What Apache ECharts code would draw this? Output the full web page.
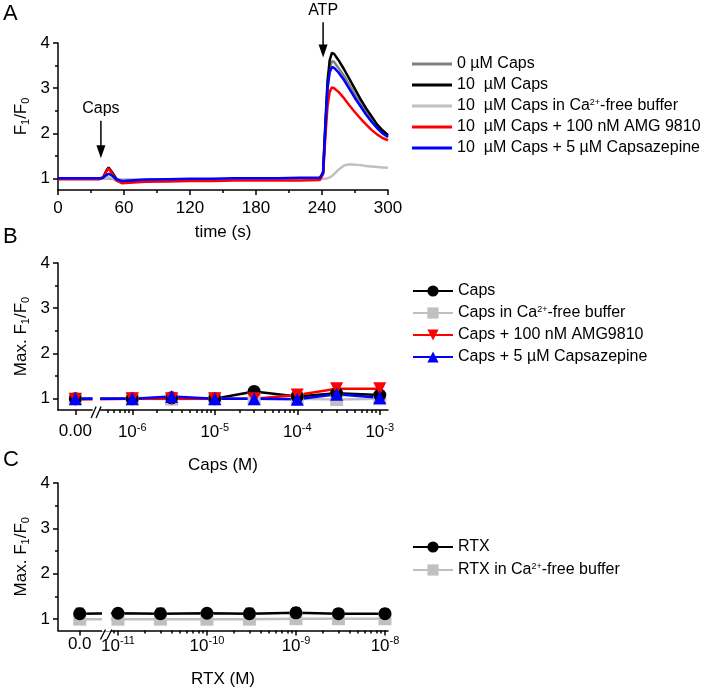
<!DOCTYPE html>
<html>
<head>
<meta charset="utf-8">
<script src="https://cdn.jsdelivr.net/npm/echarts@6/dist/echarts.min.js"></script>
<style>
html, body { margin: 0; padding: 0; background: #fff; }
#chart { width: 709px; height: 688px; }
</style>
</head>
<body>
<div id="chart"></div>
<script>
// ---- Panel A: F1/F0 time course ----
var time = [0, 10, 20, 30, 38, 41, 44, 46, 49, 53, 58, 65, 80, 100, 120, 140, 160, 180, 200, 220, 238, 241, 243, 245, 247, 249, 251, 255, 260, 265, 270, 275, 280, 285, 290, 295, 300];
var caps0 = [1.0, 1.0, 1.0, 1.0, 1.0, 1.0, 1.01, 1.01, 1.0, 0.98, 0.97, 0.97, 0.97, 0.98, 0.98, 0.98, 0.99, 0.99, 0.99, 0.99, 0.99, 1.12, 2.1, 3.0, 3.45, 3.6, 3.58, 3.45, 3.27, 3.07, 2.86, 2.66, 2.48, 2.3, 2.14, 2.02, 1.93];
var caps10 = [1.0, 1.0, 1.0, 1.0, 1.0, 1.03, 1.18, 1.25, 1.15, 1.0, 0.93, 0.93, 0.95, 0.96, 0.97, 0.97, 0.98, 0.98, 0.98, 0.99, 0.99, 1.15, 2.2, 3.15, 3.62, 3.78, 3.76, 3.62, 3.42, 3.2, 2.98, 2.76, 2.56, 2.38, 2.2, 2.07, 1.96];
var caps10CaFree = [1.0, 1.0, 1.0, 1.0, 1.0, 1.0, 1.02, 1.03, 1.01, 0.99, 0.98, 0.98, 0.98, 0.98, 0.98, 0.98, 0.99, 0.99, 0.99, 0.99, 0.99, 1.0, 1.0, 1.01, 1.03, 1.06, 1.1, 1.2, 1.29, 1.32, 1.31, 1.3, 1.28, 1.27, 1.26, 1.25, 1.24];
var caps10Amg = [0.99, 0.99, 0.99, 0.99, 0.99, 1.02, 1.16, 1.23, 1.12, 0.96, 0.9, 0.91, 0.93, 0.94, 0.95, 0.95, 0.96, 0.96, 0.96, 0.96, 0.97, 1.1, 1.9, 2.6, 2.92, 3.02, 3.0, 2.92, 2.78, 2.62, 2.47, 2.33, 2.2, 2.08, 1.98, 1.9, 1.85];
var caps10Cpz = [1.01, 1.01, 1.01, 1.01, 1.01, 1.02, 1.08, 1.11, 1.07, 0.99, 0.95, 0.96, 0.98, 0.99, 1.0, 1.0, 1.01, 1.01, 1.01, 1.02, 1.02, 1.13, 2.1, 3.0, 3.35, 3.47, 3.45, 3.35, 3.18, 2.98, 2.78, 2.6, 2.42, 2.26, 2.12, 2.0, 1.92];
var timeTicks = [0, 60, 120, 180, 240, 300];

// ---- Panel B: max F1/F0 vs capsaicin ----
var capsConc = [0, 1e-6, 3e-6, 1e-5, 3e-5, 1e-4, 3e-4, 1e-3];
var capsMax = [1.0, 1.0, 1.02, 1.0, 1.16, 1.05, 1.12, 1.08];
var capsMaxErr = [0.03, 0.03, 0.04, 0.03, 0.05, 0.04, 0.06, 0.05];
var capsCaFree = [1.0, 1.0, 0.99, 1.0, 1.0, 1.0, 0.98, 1.0];
var capsCaFreeErr = [0.06, 0.03, 0.06, 0.03, 0.03, 0.03, 0.04, 0.03];
var capsAmg = [0.98, 1.0, 1.0, 1.0, 1.0, 1.08, 1.22, 1.22];
var capsAmgErr = [0.08, 0.06, 0.08, 0.07, 0.07, 0.08, 0.1, 0.09];
var capsCpz = [1.0, 1.0, 1.05, 1.0, 1.0, 0.99, 1.1, 1.02];
var capsCpzErr = [0.05, 0.04, 0.05, 0.04, 0.04, 0.05, 0.06, 0.05];

// ---- Panel C: max F1/F0 vs RTX ----
var rtxConc = [0, 1e-11, 3e-11, 1e-10, 3e-10, 1e-9, 3e-9, 1e-8];
var rtxMax = [1.12, 1.13, 1.12, 1.13, 1.12, 1.14, 1.12, 1.12];
var rtxMaxErr = [0.12, 0.1, 0.12, 0.1, 0.12, 0.11, 0.1, 0.1];
var rtxCaFree = [1.0, 1.0, 1.0, 1.0, 1.0, 1.01, 1.01, 1.01];
var rtxCaFreeErr = [0.04, 0.04, 0.04, 0.04, 0.04, 0.04, 0.04, 0.04];

var maxTicks = [1, 2, 3, 4];
var maxMinorTicks = [1.5, 2.5, 3.5];

// broken log axes: the zero dose sits left of the break
var axB = { min: -6.9, max: -2.9, zero: -6.69, brk: [-6.48, -6.39], zeroLabel: '0.00', decades: [-6, -5, -4, -3], margin: 12, supPad: 2 };
var axC = { min: -11.674, max: -7.966, zero: -11.43, brk: [-11.18, -11.08], zeroLabel: '0.0', decades: [-11, -10, -9, -8], margin: 5, supPad: 4 };

var FONT = '"Liberation Sans", Arial, Helvetica, sans-serif';
var GRAY = '#808080', LIGHT = '#c0c0c0', RED = '#ff0000', BLUE = '#0000ff';

function pos(ax, c) { return c === 0 ? ax.zero : Math.log10(c); }
function minorTicks(ax) {
    var out = [];
    for (var d = Math.floor(ax.min) - 1; d < ax.max; d++) {
        for (var k = 2; k <= 9; k++) {
            var v = d + Math.log10(k);
            if (v > ax.brk[1] && v < ax.max) out.push(v);
        }
    }
    return out;
}

var tickStyle = { color: '#000', width: 1.5 };
var lineAxis = { show: true, onZero: false, lineStyle: { color: '#000', width: 1.5 } };
var label17 = { fontSize: 17, fontFamily: FONT, color: '#000' };
var nameRich = {
    b: { fontSize: 17, lineHeight: 20, fontFamily: FONT, color: '#000' },
    s: { fontSize: 11, lineHeight: 10, verticalAlign: 'bottom', fontFamily: FONT, color: '#000' }
};

function yAxes(grid) {
    return [{
        gridIndex: grid, type: 'value', min: 0.75, max: 4, position: 'left',
        axisLine: lineAxis,
        axisTick: { show: true, length: 5, customValues: maxTicks, lineStyle: tickStyle },
        axisLabel: Object.assign({ margin: 8, customValues: maxTicks }, label17),
        splitLine: { show: false },
        name: grid === 0 ? '{b|F}{s|1}{b|/F}{s|0}' : '{b|Max. F}{s|1}{b|/F}{s|0}',
        nameLocation: 'middle', nameGap: 27,
        nameTextStyle: { rich: nameRich }
    }, {
        gridIndex: grid, type: 'value', min: 0.75, max: 4, position: 'left',
        axisLine: { show: false },
        axisTick: { show: true, length: 3, customValues: maxMinorTicks, lineStyle: tickStyle },
        axisLabel: { show: false },
        splitLine: { show: false }
    }];
}

function logAxes(grid, ax, name, gap) {
    var major = [ax.zero].concat(ax.decades);
    return [{
        gridIndex: grid, type: 'value', min: ax.min, max: ax.max, position: 'bottom',
        axisLine: lineAxis,
        axisTick: { show: true, length: 5, customValues: major, lineStyle: tickStyle },
        axisLabel: {
            margin: ax.margin, customValues: major,
            formatter: function (v) {
                return Math.abs(v - ax.zero) < 1e-6 ? '{z|' + ax.zeroLabel + '}' : '{b|10}{p|' + Math.round(v) + '}';
            },
            rich: {
                z: { fontSize: 17, lineHeight: 18, fontFamily: FONT, color: '#000' },
                b: { fontSize: 17, lineHeight: 18, padding: [ax.supPad, 0, 0, 0], fontFamily: FONT, color: '#000' },
                p: { fontSize: 11, lineHeight: 12, verticalAlign: 'top', fontFamily: FONT, color: '#000' }
            }
        },
        splitLine: { show: false },
        name: name, nameLocation: 'middle', nameGap: gap,
        nameTextStyle: label17
    }, {
        gridIndex: grid, type: 'value', min: ax.min, max: ax.max, position: 'bottom',
        axisLine: { show: false },
        axisTick: { show: true, length: 3, customValues: minorTicks(ax), lineStyle: tickStyle },
        axisLabel: { show: false },
        splitLine: { show: false }
    }];
}

function trace(name, vals, color) {
    return {
        name: name, type: 'line', xAxisIndex: 0, yAxisIndex: 0,
        symbol: 'none', showSymbol: false, z: 3,
        lineStyle: { color: color, width: 2.5 }, itemStyle: { color: color },
        data: time.map(function (t, i) { return [t, vals[i]]; })
    };
}

function doseLine(name, ax, xi, yi, conc, vals, color, symbol) {
    return {
        name: name, type: 'line', xAxisIndex: xi, yAxisIndex: yi,
        symbol: symbol, symbolSize: 13, z: 3,
        lineStyle: { color: color, width: 2.5 }, itemStyle: { color: color },
        data: conc.map(function (c, i) { return [pos(ax, c), vals[i]]; })
    };
}

function errBars(ax, xi, yi, conc, vals, errs, color) {
    return {
        type: 'custom', xAxisIndex: xi, yAxisIndex: yi, z: 2, silent: true,
        encode: { x: 0, y: [1, 2] },
        data: conc.map(function (c, i) { return [pos(ax, c), vals[i] - errs[i], vals[i] + errs[i]]; }),
        renderItem: function (params, api) {
            var lo = api.coord([api.value(0), api.value(1)]);
            var hi = api.coord([api.value(0), api.value(2)]);
            var st = { stroke: color, lineWidth: 1.2 };
            return {
                type: 'group', children: [
                    { type: 'line', shape: { x1: lo[0], y1: lo[1], x2: hi[0], y2: hi[1] }, style: st },
                    { type: 'line', shape: { x1: lo[0] - 4, y1: lo[1], x2: lo[0] + 4, y2: lo[1] }, style: st },
                    { type: 'line', shape: { x1: hi[0] - 4, y1: hi[1], x2: hi[0] + 4, y2: hi[1] }, style: st }
                ]
            };
        }
    };
}

var DOWN = 'path://M0,0L10,0L5,9Z';
var namesA = ['0 µM Caps', '10  µM Caps', '10  µM Caps in Ca2+-free buffer', '10  µM Caps + 100 nM AMG 9810', '10  µM Caps + 5 µM Capsazepine'];
var namesB = ['Caps', 'Caps in Ca2+-free buffer', 'Caps + 100 nM AMG9810', 'Caps + 5 µM Capsazepine'];
var namesC = ['RTX', 'RTX in Ca2+-free buffer'];

function legend(top, gap, data, extra) {
    return Object.assign({
        orient: 'vertical', left: 412, top: top, padding: 0, itemWidth: 40, itemHeight: 14, itemGap: gap,
        data: data, selectedMode: false,
        formatter: function (n) { return n.replace('Ca2+', 'Ca{sup|2+}'); },
        textStyle: {
            fontSize: 16, lineHeight: 16, fontFamily: FONT, color: '#000',
            rich: { sup: { fontSize: 9, lineHeight: 9, verticalAlign: 'top', fontFamily: FONT, color: '#000' } }
        }
    }, extra || {});
}

var chart = echarts.init(document.getElementById('chart'));
var yA = yAxes(0), yB = yAxes(1), yC = yAxes(2);
var xB = logAxes(1, axB, 'Caps (M)', 47), xC = logAxes(2, axC, 'RTX (M)', 40);

chart.setOption({
    animation: false,
    backgroundColor: '#fff',
    grid: [
        { left: 58, top: 43, width: 330, height: 147, outerBoundsMode: 'none' },
        { left: 58, top: 263, width: 330, height: 147, outerBoundsMode: 'none' },
        { left: 58, top: 483, width: 330, height: 147.5, outerBoundsMode: 'none' }
    ],
    legend: [
        legend(56, 5, namesA, { icon: 'rect', itemHeight: 3 }),
        legend(283, 6, namesB),
        legend(539, 7, namesC)
    ],
    xAxis: [{
        gridIndex: 0, type: 'value', min: 0, max: 300, interval: 60, position: 'bottom',
        axisLine: lineAxis,
        axisTick: { show: true, length: 5, lineStyle: tickStyle },
        minorTick: { show: true, splitNumber: 2, length: 3, lineStyle: tickStyle },
        axisLabel: Object.assign({ margin: 10, customValues: timeTicks }, label17),
        splitLine: { show: false }, minorSplitLine: { show: false },
        name: 'time (s)', nameLocation: 'middle', nameGap: 34, nameTextStyle: label17
    }, xB[0], xB[1], xC[0], xC[1]],
    yAxis: [yA[0], yA[1], yB[0], yB[1], yC[0], yC[1]],
    series: [
        trace(namesA[0], caps0, GRAY),
        trace(namesA[1], caps10, '#000'),
        trace(namesA[2], caps10CaFree, LIGHT),
        trace(namesA[3], caps10Amg, RED),
        trace(namesA[4], caps10Cpz, BLUE),

        errBars(axB, 1, 2, capsConc, capsCaFree, capsCaFreeErr, LIGHT),
        doseLine(namesB[1], axB, 1, 2, capsConc, capsCaFree, LIGHT, 'rect'),
        errBars(axB, 1, 2, capsConc, capsMax, capsMaxErr, '#000'),
        doseLine(namesB[0], axB, 1, 2, capsConc, capsMax, '#000', 'circle'),
        errBars(axB, 1, 2, capsConc, capsAmg, capsAmgErr, RED),
        doseLine(namesB[2], axB, 1, 2, capsConc, capsAmg, RED, DOWN),
        errBars(axB, 1, 2, capsConc, capsCpz, capsCpzErr, BLUE),
        doseLine(namesB[3], axB, 1, 2, capsConc, capsCpz, BLUE, 'triangle'),

        errBars(axC, 3, 4, rtxConc, rtxCaFree, rtxCaFreeErr, LIGHT),
        doseLine(namesC[1], axC, 3, 4, rtxConc, rtxCaFree, LIGHT, 'rect'),
        errBars(axC, 3, 4, rtxConc, rtxMax, rtxMaxErr, '#000'),
        doseLine(namesC[0], axC, 3, 4, rtxConc, rtxMax, '#000', 'circle')
    ]
});

// annotations: panel letters, stimulus arrows, axis breaks
function letter(ch, y) {
    return { type: 'text', x: 3, y: y, z: 100, style: { text: ch, fontSize: 22, fontFamily: FONT, fill: '#000' } };
}
function arrow(t, from, to, text) {
    var p0 = chart.convertToPixel({ gridIndex: 0 }, [t, from]);
    var p1 = chart.convertToPixel({ gridIndex: 0 }, [t, to]);
    return [
        { type: 'line', z: 100, shape: { x1: p0[0], y1: p0[1], x2: p1[0], y2: p1[1] - 10 }, style: { stroke: '#000', lineWidth: 1.5 } },
        { type: 'polygon', z: 100, shape: { points: [[p1[0] - 4.5, p1[1] - 13], [p1[0] + 4.5, p1[1] - 13], [p1[0], p1[1]]] }, style: { fill: '#000' } },
        { type: 'text', z: 100, x: p0[0], y: p0[1] - 4, style: { text: text, fontSize: 16, fontFamily: FONT, fill: '#000', align: 'center', verticalAlign: 'bottom' } }
    ];
}
function brk(ax, xi, yi, up, down) {
    var x0 = chart.convertToPixel({ xAxisIndex: xi }, ax.brk[0]);
    var x1 = chart.convertToPixel({ xAxisIndex: xi }, ax.brk[1]);
    var top = chart.convertToPixel({ yAxisIndex: yi }, 4);
    var bot = chart.convertToPixel({ yAxisIndex: yi }, 0.75);
    var st = { stroke: '#000', lineWidth: 1.3 };
    return [
        { type: 'rect', z: 100, shape: { x: x0, y: top - 2, width: x1 - x0, height: bot - top + 3 }, style: { fill: '#fff' } },
        { type: 'line', z: 101, shape: { x1: x0 - 1.5, y1: bot + down, x2: x0 + 3.5, y2: bot - up }, style: st },
        { type: 'line', z: 101, shape: { x1: x1 - 4, y1: bot + down, x2: x1 + 1, y2: bot - up }, style: st }
    ];
}

chart.setOption({
    graphic: [letter('A', 3), letter('B', 226), letter('C', 449)]
        .concat(arrow(39, 2.28, 1.45, 'Caps'))
        .concat(arrow(241, 4.46, 3.68, 'ATP'))
        .concat(brk(axB, 1, 2, 3.5, 8))
        .concat(brk(axC, 3, 4, 1, 9))
});
</script>
</body>
</html>
